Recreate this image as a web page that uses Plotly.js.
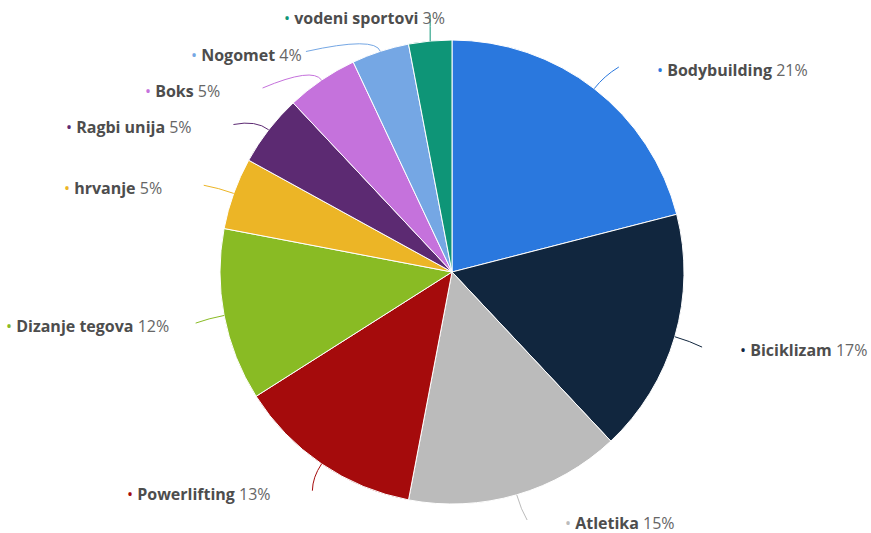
<!DOCTYPE html>
<html>
<head>
<meta charset="utf-8">
<script src="https://cdn.plot.ly/plotly-3.0.1.min.js"></script>
<style>html,body{margin:0;padding:0;background:#fff;}#chart{width:871px;height:533px;}</style>
</head>
<body>
<div id="chart"></div>
<script>
// ---- data ----
const sports = ["Bodybuilding", "Biciklizam", "Atletika", "Powerlifting", "Dizanje tegova", "hrvanje", "Ragbi unija", "Boks", "Nogomet", "vodeni sportovi"];
const shares = [21, 17, 15, 13, 12, 5, 5, 5, 4, 3];
const sliceColors = ["#2a78de", "#11263e", "#bbbbbb", "#a50b0c", "#89bb24", "#ecb526", "#5c2a72", "#c572dc", "#75a7e4", "#0e9577"];

// ---- layout geometry (not data) ----
const W = 871, H = 533;
const cx = 452, cy = 272, R = 232;
const FONT = "Open Sans";
const FS = 16;
const labelDx = { "Nogomet": 38, "vodeni sportovi": 57 };

const cvs = document.createElement("canvas").getContext("2d");
function tw(txt, bold) { cvs.font = (bold ? "bold " : "") + FS + "px '" + FONT + "'"; return cvs.measureText(txt).width; }

const total = shares.reduce((a, b) => a + b, 0);
let cum = 0;
const items = sports.map((name, i) => {
  const mid = (cum + shares[i] / 2) / total * 2 * Math.PI;
  cum += shares[i];
  const s = Math.sin(mid), c = Math.cos(mid);
  return { i, name, pct: Math.round(shares[i] / total * 100) + "%", s, c,
    side: s >= 0 ? 1 : -1, y: cy - (R + 30) * c + 5 };
});

// distribute labels on each side to avoid overlap
[1, -1].forEach(side => {
  const arr = items.filter(d => d.side === side).sort((a, b) => a.y - b.y);
  let prev = -Infinity;
  arr.forEach(d => { d.y = Math.max(d.y, 18, prev + 36.5); prev = d.y; });
  let next = Infinity;
  for (let k = arr.length - 1; k >= 0; k--) { arr[k].y = Math.min(arr[k].y, H - 10, next - 36.5); next = arr[k].y; }
});

const px = x => x / W, py = y => 1 - y / H;
const shapes = [], annotations = [];
items.forEach(d => {
  const rL = R + 30;
  const dy = d.y - cy;
  const x0 = cx + R * d.s, y0 = cy - R * d.c;
  let xe = cx + d.side * Math.sqrt(Math.max(0, rL * rL - dy * dy));
  let xq = cx + (R + 16) * d.s, yq = cy - (R + 16) * d.c;
  if (Math.abs(d.s) < 0.15) { xe = x0; xq = x0; }
  shapes.push({ type: "path", xref: "paper", yref: "paper",
    path: `M ${px(x0)} ${py(y0)} Q ${px(xq)} ${py(yq)} ${px(xe)} ${py(d.y - 3)}`,
    line: { color: sliceColors[d.i], width: 1 } });
  const width = tw("• ", false) + tw(d.name, true) + tw(" " + d.pct, false);
  let left = d.side > 0 ? xe + 36 : xe - 44 - width;
  left += labelDx[d.name] || 0;
  left = Math.max(4, Math.min(left, W - 4 - width));
  annotations.push({ xref: "paper", yref: "paper", x: px(left), y: py(d.y), xanchor: "left", yanchor: "middle",
    showarrow: false, align: "left",
    text: `<span style="color:${sliceColors[d.i]}">•</span> <b>${d.name}</b> <span style="color:#666">${d.pct}</span>`,
    font: { family: FONT, size: FS, color: "#4d4d4d" } });
});

const trace = {
  type: "pie", labels: sports, values: shares, sort: false, direction: "clockwise", rotation: 0,
  marker: { colors: sliceColors, line: { color: "#ffffff", width: 1 } },
  textinfo: "none", hoverinfo: "label+percent",
  domain: { x: [(cx - R) / W, (cx + R) / W], y: [(H - cy - R) / H, (H - cy + R) / H] }
};

Plotly.newPlot("chart", [trace], {
  width: W, height: H, margin: { l: 0, r: 0, t: 0, b: 0 },
  paper_bgcolor: "#ffffff", showlegend: false,
  font: { family: FONT }, shapes, annotations
}, { displayModeBar: false, staticPlot: true });
</script>
</body>
</html>
